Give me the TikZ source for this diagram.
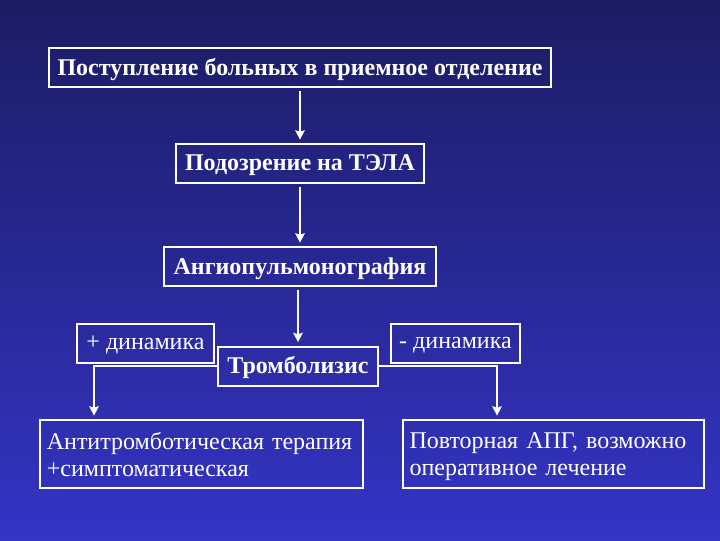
\documentclass[tikz,border=0pt]{standalone}
\usepackage{fontspec}
\setmainfont{Liberation Serif}
\usepackage{tikz}
\usetikzlibrary{arrows.meta, positioning, calc}

\definecolor{bgtop}{RGB}{28,28,100}
\definecolor{bgbottom}{RGB}{52,52,198}

\begin{document}
\begin{tikzpicture}[
    x=0.75pt, y=-0.75pt,
    box/.style={rectangle, draw=white, line width=1.5pt, text=white, inner sep=0pt, minimum height=29.25pt, text depth=1pt, font=\fontsize{18}{22}\selectfont\bfseries},
    plainbox/.style={box, font=\fontsize{18}{22}\selectfont},
    wide/.style={rectangle, draw=white, line width=1.5pt, text=white, inner sep=0pt, minimum height=51pt, text depth=20pt, align=left, font=\fontsize{18}{20.5}\selectfont},
    arrow/.style={draw=white, line width=1.5pt, -{Stealth[length=7pt, width=7pt, inset=1pt]}, shorten >=2.5pt, shorten <=2pt}
]

% Background
\shade[top color=bgtop, bottom color=bgbottom] (0,0) rectangle (720,540);
\useasboundingbox (0,0) rectangle (720,540);

% Nodes
\node (admit) [box, minimum width=376.5pt] at (300,67.5) {Поступление больных в приемное отделение};
\node (suspect) [box, minimum width=186pt] at (300,163.5) {Подозрение на ТЭЛА};
\node (apg) [box, minimum width=204pt] at (300,266.5) {Ангиопульмонография};

\node (plus) [plainbox, minimum width=102.75pt] at (145.5,343.5) {+ динамика};
\node (lysis) [box, minimum width=120pt] at (298,366) {Тромболизис};
\node (minus) [plainbox, minimum width=96.75pt] at (455.5,343.5) {- динамика};

\node (antithr) [wide, minimum width=242.25pt, text width=232pt] at (201.5,454) {Антитромботическая терапия\\+симптоматическая};
\node (repeat) [wide, minimum width=225.75pt, text width=216pt] at (553.5,454) {Повторная АПГ, возможно\\оперативное лечение};

% Arrows
\draw [arrow] (admit) -- (suspect);
\draw [arrow] (suspect) -- (apg);
\draw [arrow] (apg.south -| lysis) -- (lysis);
\draw [arrow, shorten <=0pt] (lysis.west) -| ([xshift=41.25pt]antithr.north west);
\draw [arrow, shorten <=0pt] (lysis.east) -| ([xshift=71.25pt]repeat.north west);

\end{tikzpicture}
\end{document}
